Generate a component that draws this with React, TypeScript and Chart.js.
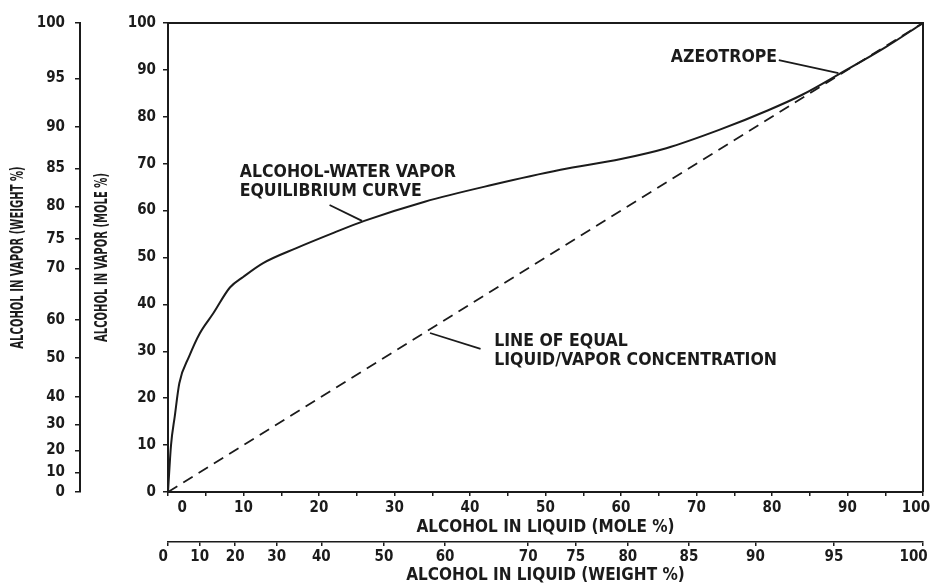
import React, { useEffect, useRef } from "react";
import { Chart, registerables } from "chart.js";

Chart.register(...registerables);

// Equilibrium curve (mole % alcohol in liquid -> mole % alcohol in vapor)
const liquidMole = [0, 0.4, 0.9, 1.5, 2.8, 4.2, 6.0, 8.2, 10.0, 12.6, 17.0, 22.0, 26.0, 34.0, 43.0, 52.0, 60.0, 66.0, 73.0, 79.5, 84.0, 89.0, 95.0, 100];
const vaporMole = [0, 10.0, 16.2, 23.2, 28.9, 33.8, 38.1, 43.6, 45.9, 48.8, 52.0, 55.3, 57.8, 61.9, 65.5, 68.7, 71.0, 73.3, 77.2, 81.4, 84.7, 89.2, 94.8, 100];

// Line of equal liquid/vapor concentration
const equalLiquid = [0, 100];
const equalVapor = [0, 100];

// Mole % axes
const moleXTickValues = [0, 5, 10, 15, 20, 25, 30, 35, 40, 45, 50, 55, 60, 65, 70, 75, 80, 85, 90, 95, 100];
const moleXTickLabels = ["0", "", "10", "", "20", "", "30", "", "40", "", "50", "", "60", "", "70", "", "80", "", "90", "", "100"];
const moleYTickValues = [0, 10, 20, 30, 40, 50, 60, 70, 80, 90, 100];
const moleYTickLabels = ["0", "10", "20", "30", "40", "50", "60", "70", "80", "90", "100"];

// Weight % axes (tick labels and where they fall on the mole % scale)
const weightTickLabels = ["0", "10", "20", "30", "40", "50", "60", "70", "75", "80", "85", "90", "95", "100"];
const weightTickMole = [0, 4.2, 8.9, 14.4, 20.3, 28.6, 36.7, 47.7, 54.0, 60.9, 69.0, 77.8, 88.2, 100];

// Axis titles
const xMoleTitle = "ALCOHOL IN LIQUID (MOLE %)";
const xWeightTitle = "ALCOHOL IN LIQUID (WEIGHT %)";
const yMoleTitle = "ALCOHOL IN VAPOR (MOLE %)";
const yWeightTitle = "ALCOHOL IN VAPOR (WEIGHT %)";

const FONT = '"DejaVu Sans Condensed", "DejaVu Sans", sans-serif';
const INK = "#1b1b1b";

export default function App() {
  const ref = useRef<HTMLCanvasElement>(null);

  useEffect(() => {
    document.body.style.margin = "0";
    const canvas = ref.current;
    if (!canvas) return;

    const frame = {
      id: "frame",
      afterDraw(chart: any) {
        const { ctx, chartArea } = chart;
        const { left, top, right, bottom } = chartArea;
        ctx.save();
        ctx.strokeStyle = INK;
        ctx.lineWidth = 2;
        ctx.beginPath();
        ctx.moveTo(left, top);
        ctx.lineTo(right, top);
        ctx.lineTo(right, bottom);
        ctx.stroke();
        ctx.restore();
      },
    };

    // Condensed vertical axis titles
    const vTitles = {
      id: "vTitles",
      afterDraw(chart: any) {
        const { ctx, chartArea } = chart;
        const midY = (chartArea.top + chartArea.bottom) / 2;
        const draw = (s: string, x: number) => {
          ctx.save();
          ctx.translate(x, midY);
          ctx.rotate(-Math.PI / 2);
          ctx.scale(0.62, 1);
          ctx.font = "bold 18px " + FONT;
          ctx.fillStyle = INK;
          ctx.textAlign = "center";
          ctx.textBaseline = "middle";
          ctx.fillText(s, 0, 0);
          ctx.restore();
        };
        draw(yMoleTitle, chart.scales.y.left + 22);
        draw(yWeightTitle, chart.scales.y2.left + 18);
      },
    };

    const notes = {
      id: "notes",
      afterDatasetsDraw(chart: any) {
        const { ctx } = chart;
        const sx = chart.scales.x;
        const sy = chart.scales.y;
        const px = (v: number) => sx.getPixelForValue(v);
        const py = (v: number) => sy.getPixelForValue(v);
        ctx.save();
        ctx.fillStyle = INK;
        ctx.strokeStyle = INK;
        ctx.lineWidth = 1.8;
        ctx.font = "bold 17.5px " + FONT;
        ctx.textAlign = "left";
        ctx.textBaseline = "middle";
        const text = (s: string, x: number, y: number) => ctx.fillText(s, px(x), py(y));
        const line = (x1: number, y1: number, x2: number, y2: number) => {
          ctx.beginPath();
          ctx.moveTo(px(x1), py(y1));
          ctx.lineTo(px(x2), py(y2));
          ctx.stroke();
        };
        text("ALCOHOL-WATER VAPOR", 9.5, 68.2);
        text("EQUILIBRIUM CURVE", 9.5, 64.0);
        line(21.4, 61.2, 25.7, 57.8);
        text("AZEOTROPE", 66.6, 92.7);
        line(80.9, 92.1, 88.8, 89.3);
        text("LINE OF EQUAL", 43.2, 32.0);
        text("LIQUID/VAPOR CONCENTRATION", 43.2, 28.1);
        line(34.7, 33.9, 41.4, 30.5);
        ctx.restore();
      },
    };

    const tickFont = { family: FONT, size: 15, weight: "bold" as const };

    const chart = new Chart(canvas, {
      type: "line",
      data: {
        datasets: [
          {
            label: "Alcohol-water vapor equilibrium curve",
            data: liquidMole.map((x, i) => ({ x, y: vaporMole[i] })),
            borderColor: INK,
            borderWidth: 2,
            pointRadius: 0,
            cubicInterpolationMode: "monotone",
            fill: false,
          },
          {
            label: "Line of equal liquid/vapor concentration",
            data: equalLiquid.map((x, i) => ({ x, y: equalVapor[i] })),
            borderColor: INK,
            borderWidth: 1.8,
            borderDash: [11, 7],
            pointRadius: 0,
            fill: false,
          },
        ],
      },
      options: {
        animation: false,
        responsive: true,
        maintainAspectRatio: false,
        layout: { padding: { top: 23, right: 11, left: 0, bottom: 0 } },
        plugins: {
          legend: { display: false },
          tooltip: { enabled: false },
        },
        scales: {
          x: {
            type: "linear",
            position: "bottom",
            weight: 0,
            min: 0,
            max: 100,
            afterBuildTicks: (s: any) => {
              s.ticks = moleXTickValues.map((v) => ({ value: v }));
            },
            afterFit: (s: any) => {
              s.height = 50;
              s.paddingLeft = 0;
              s.paddingRight = 0;
            },
            ticks: {
              autoSkip: false,
              maxRotation: 0,
              padding: 3,
              color: INK,
              font: tickFont,
              callback: (_v: any, i: number) => {
                const l = moleXTickLabels[i];
                if (i === 0) return "      " + l;
                if (i === moleXTickLabels.length - 1) return l + "   ";
                return l;
              },
            },
            grid: { drawOnChartArea: false, tickLength: 4, color: INK, lineWidth: 1.5 },
            border: { color: INK, width: 2 },
            title: {
              display: true,
              text: xMoleTitle,
              color: INK,
              font: { family: FONT, size: 17, weight: "bold" },
              padding: { top: 0, bottom: 4 },
            },
          },
          x2: {
            type: "linear",
            position: "bottom",
            weight: 1,
            min: 0,
            max: 100,
            afterBuildTicks: (s: any) => {
              s.ticks = weightTickMole.map((v) => ({ value: v }));
            },
            afterFit: (s: any) => {
              s.height = 43;
              s.paddingLeft = 0;
              s.paddingRight = 0;
            },
            ticks: {
              autoSkip: false,
              maxRotation: 0,
              padding: 2,
              color: INK,
              font: tickFont,
              callback: (_v: any, i: number) => {
                const l = weightTickLabels[i];
                if (i === 0) return l + "  ";
                if (i === weightTickLabels.length - 1) return l + "    ";
                return l;
              },
            },
            grid: { drawOnChartArea: false, tickLength: 4, color: INK, lineWidth: 1.5 },
            border: { color: INK, width: 1.5 },
            title: {
              display: true,
              text: xWeightTitle,
              color: INK,
              font: { family: FONT, size: 17, weight: "bold" },
              padding: { top: 0, bottom: -1 },
            },
          },
          y: {
            type: "linear",
            position: "left",
            weight: 0,
            min: 0,
            max: 100,
            afterBuildTicks: (s: any) => {
              s.ticks = moleYTickValues.map((v) => ({ value: v }));
            },
            afterFit: (s: any) => {
              s.width = 88;
              s.paddingTop = 0;
              s.paddingBottom = 0;
            },
            ticks: {
              autoSkip: false,
              padding: 7,
              color: INK,
              font: tickFont,
              callback: (_v: any, i: number) => moleYTickLabels[i],
            },
            grid: { drawOnChartArea: false, tickLength: 5, color: INK, lineWidth: 1.5 },
            border: { color: INK, width: 2 },
            title: { display: false },
          },
          y2: {
            type: "linear",
            position: "left",
            weight: 1,
            min: 0,
            max: 100,
            afterBuildTicks: (s: any) => {
              s.ticks = weightTickMole.map((v) => ({ value: v }));
            },
            afterFit: (s: any) => {
              s.width = 80;
              s.paddingTop = 0;
              s.paddingBottom = 0;
            },
            ticks: {
              autoSkip: false,
              padding: 10,
              color: INK,
              font: tickFont,
              callback: (_v: any, i: number) => weightTickLabels[i],
            },
            grid: { drawOnChartArea: false, tickLength: 5, color: INK, lineWidth: 1.5 },
            border: { color: INK, width: 2 },
            title: { display: false },
          },
        },
      },
      plugins: [frame, vTitles, notes],
    });

    return () => chart.destroy();
  }, []);

  return (
    <div style={{ position: "relative", width: 934, height: 585 }}>
      <canvas ref={ref} />
    </div>
  );
}
